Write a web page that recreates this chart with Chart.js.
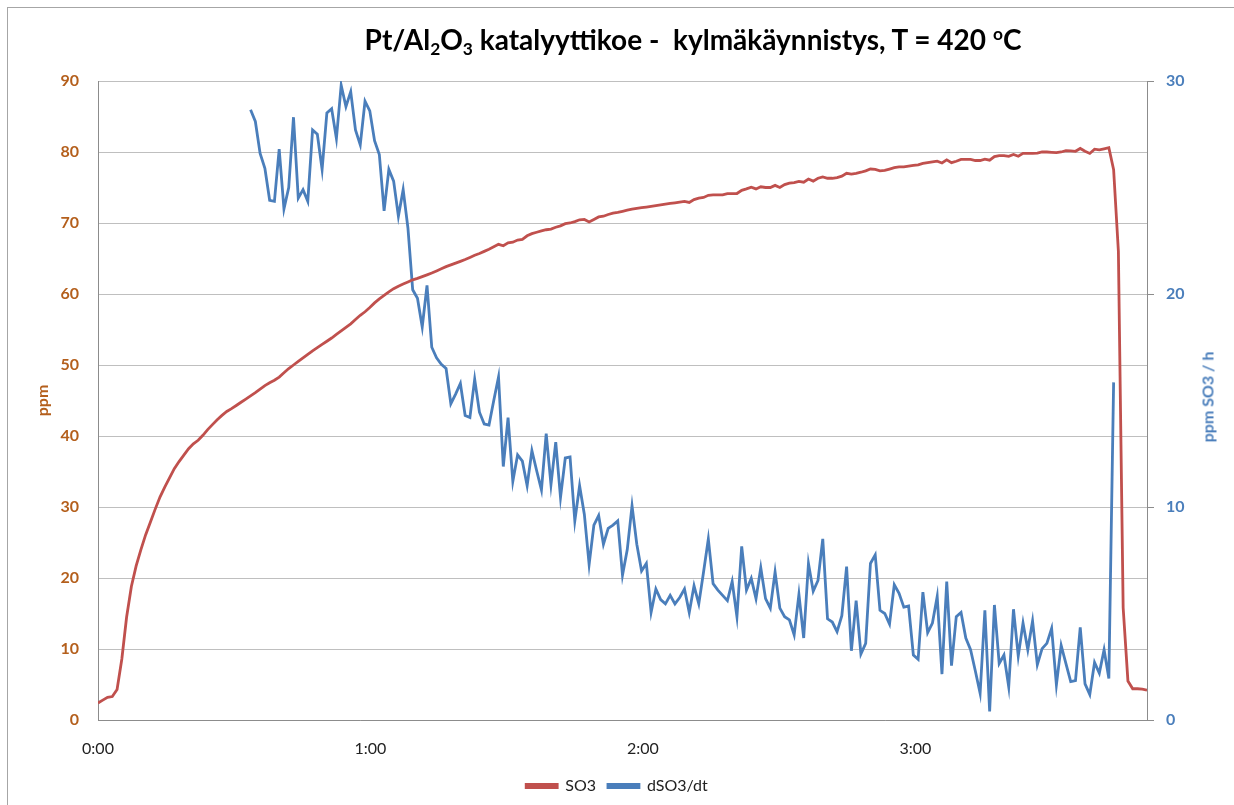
<!DOCTYPE html>
<html>
<head>
<meta charset="utf-8">
<script src="https://cdn.jsdelivr.net/npm/chart.js@4.4.1/dist/chart.umd.min.js"></script>
<style>
  html, body { margin: 0; padding: 0; background: #fff; }
  #wrap { position: relative; width: 1234px; height: 805px; overflow: hidden; font-family: Lato, 'Open Sans', sans-serif; }
  #frame { position: absolute; left: 7px; top: 7px; width: 1260px; height: 830px; border: 1px solid #a6a6a6; }
  #chart { position: absolute; left: 0; top: 0; }
  #title { position: absolute; left: 193px; width: 1000px; top: 22px; text-align: center; font-weight: bold; font-size: 28px; color: #000; white-space: pre; }
  #title sub, #title sup { font-size: 0.62em; line-height: 0; }
  #title sub { vertical-align: -0.3em; }
  #title sup { vertical-align: 0.55em; }
  #rightTitle { position: absolute; left: 1207px; top: 397px; transform: translate(-50%, -50%) rotate(-90deg); font-weight: bold; font-size: 16px; color: #4a7ebb; white-space: nowrap; }
</style>
</head>
<body>
<div id="wrap">
  <div id="frame"></div>
  <canvas id="chart" width="1234" height="805"></canvas>
  <div id="title">Pt/Al<sub>2</sub>O<sub>3</sub> katalyyttikoe -  kylmäkäynnistys, T = 420 <sup>o</sup>C</div>
  <div id="rightTitle">ppm SO3 / h</div>
</div>
<script>
// one sample roughly every 63 s
const SAMPLE_MIN = 1.05;
const DSO3_FIRST = 32; // sample index where the derivative starts
const TIME_LABELS = ['0:00', '1:00', '2:00', '3:00'];

const so3 = [
  2.4, 2.8, 3.2, 3.3, 4.3, 8.6, 14.5, 18.8, 21.7, 24.0,
  26.1, 27.9, 29.7, 31.4, 32.8, 34.1, 35.4, 36.4, 37.3, 38.2,
  38.9, 39.4, 40.1, 40.9, 41.6, 42.3, 42.9, 43.45, 43.85, 44.3,
  44.75, 45.2, 45.65, 46.1, 46.6, 47.1, 47.5, 47.85, 48.3, 48.9,
  49.5, 50.0, 50.5, 51.0, 51.5, 52.0, 52.45, 52.9, 53.35, 53.8,
  54.3, 54.8, 55.3, 55.8, 56.4, 57.0, 57.5, 58.1, 58.75, 59.3,
  59.8, 60.3, 60.75, 61.1, 61.4, 61.7, 62.0, 62.2, 62.45, 62.7,
  62.95, 63.25, 63.55, 63.85, 64.1, 64.35, 64.6, 64.85, 65.15, 65.45,
  65.7, 66.0, 66.3, 66.65, 67.0, 66.8, 67.2, 67.3, 67.6, 67.7,
  68.2, 68.5, 68.7, 68.9, 69.05, 69.15, 69.4, 69.6, 69.9, 70.0,
  70.2, 70.45, 70.5, 70.15, 70.5, 70.85, 70.95, 71.2, 71.4, 71.5,
  71.65, 71.8, 71.95, 72.05, 72.15, 72.25, 72.35, 72.45, 72.55, 72.65,
  72.75, 72.85, 72.95, 73.05, 72.9, 73.3, 73.5, 73.6, 73.9, 73.95,
  73.95, 73.95, 74.15, 74.15, 74.15, 74.6, 74.8, 75.05, 74.8, 75.1,
  75.0, 75.0, 75.3, 75.0, 75.4, 75.6, 75.7, 75.85, 75.75, 76.2,
  75.9, 76.3, 76.5, 76.3, 76.3, 76.4, 76.6, 77.0, 76.9, 77.0,
  77.15, 77.35, 77.6, 77.55, 77.35, 77.4, 77.6, 77.8, 77.9, 77.9,
  78.0, 78.1, 78.2, 78.4, 78.5, 78.6, 78.7, 78.45, 78.9, 78.5,
  78.7, 78.95, 78.95, 78.95, 78.8, 78.8, 79.0, 78.85, 79.35, 79.5,
  79.5, 79.4, 79.65, 79.4, 79.8, 79.8, 79.8, 79.85, 80.0, 80.0,
  79.95, 79.9, 80.0, 80.2, 80.15, 80.1, 80.5, 80.1, 79.8, 80.4,
  80.3, 80.45, 80.6, 77.5, 66.0, 15.8, 5.5, 4.4, 4.4, 4.35, 4.2
];

const dso3dt = [
  28.65, 28.1, 26.6, 25.9, 24.4, 24.35, 26.8, 24.0, 25.0, 28.3,
  24.5, 24.9, 24.35, 27.7, 27.5, 25.85, 28.5, 28.7, 27.3, 29.8,
  28.8, 29.5, 27.7, 27.0, 29.05, 28.6, 27.2, 26.55, 23.9, 25.85,
  25.3, 23.65, 24.9, 23.1, 20.2, 19.8, 18.45, 20.4, 17.5, 17.0,
  16.7, 16.5, 14.85, 15.3, 15.8, 14.3, 14.2, 16.0, 14.45, 13.9,
  13.85, 15.0, 16.1, 11.9, 14.2, 11.2, 12.45, 12.15, 11.0, 12.65,
  11.7, 10.8, 13.45, 11.05, 13.05, 10.45, 12.3, 12.35, 9.35, 11.0,
  9.65, 7.3, 9.15, 9.6, 8.25, 9.0, 9.15, 9.35, 6.8, 8.0,
  10.05, 8.25, 7.0, 7.35, 5.05, 6.15, 5.65, 5.45, 5.85, 5.45,
  5.75, 6.15, 5.05, 6.3, 5.45, 6.95, 8.5, 6.4, 6.1, 5.85,
  5.6, 6.5, 4.85, 8.15, 6.1, 6.65, 5.7, 7.15, 5.7, 5.25,
  6.95, 5.25, 4.85, 4.7, 4.0, 5.9, 3.85, 7.35, 6.05, 6.55,
  8.5, 4.75, 4.6, 4.15, 4.9, 7.2, 3.25, 5.6, 3.1, 3.6,
  7.35, 7.75, 5.15, 5.0, 4.5, 6.35, 5.95, 5.3, 5.35, 3.05,
  2.85, 6.0, 4.1, 4.55, 5.8, 2.15, 6.5, 2.55, 4.85, 5.05,
  3.85, 3.3, 2.3, 1.25, 5.15, 0.4, 5.4, 2.65, 3.05, 1.55,
  5.2, 3.0, 4.55, 3.3, 4.65, 2.6, 3.35, 3.6, 4.3, 1.65,
  3.5, 2.65, 1.8, 1.85, 4.35, 1.7, 1.2, 2.7, 2.2, 3.3,
  1.95, 15.85
];

const RED = '#c0504d';
const BLUE = '#4a7ebb';
const BROWN = '#b45f1c';
const GRID = '#bfbfbf';
const AXIS = '#8c8c8c';

const so3Points = so3.map((v, i) => ({ x: i * SAMPLE_MIN, y: v }));
const dso3Points = dso3dt.map((v, i) => ({ x: (DSO3_FIRST + i) * SAMPLE_MIN, y: v }));

const tickFont = { family: 'Lato, sans-serif', size: 16 };

new Chart(document.getElementById('chart'), {
  type: 'line',
  data: {
    datasets: [
      { label: 'SO3', data: so3Points, yAxisID: 'y', borderColor: RED, backgroundColor: RED, borderWidth: 2.8, pointRadius: 0, tension: 0 },
      { label: 'dSO3/dt', data: dso3Points, yAxisID: 'y2', borderColor: BLUE, backgroundColor: BLUE, borderWidth: 2.8, pointRadius: 0, tension: 0 },
    ],
  },
  options: {
    responsive: false,
    devicePixelRatio: 1,
    animation: false,
    layout: { padding: { top: 81, bottom: 1, left: 0, right: 0 } },
    plugins: {
      title: { display: false },
      tooltip: { enabled: false },
      legend: {
        position: 'bottom',
        labels: { boxWidth: 31, boxHeight: 3, padding: 12, color: '#222', font: { family: 'Lato, sans-serif', size: 16 } },
      },
    },
    scales: {
      x: {
        type: 'linear',
        min: 0,
        max: (so3.length - 1) * SAMPLE_MIN,
        afterFit: s => { s.height = 46; },
        afterBuildTicks: s => { s.ticks = TIME_LABELS.map((_, k) => ({ value: k * 60 })); },
        grid: { display: false, drawTicks: false },
        border: { display: true, color: AXIS, width: 1 },
        ticks: { padding: 19, color: '#222', font: tickFont, maxRotation: 0, callback: v => TIME_LABELS[v / 60] },
      },
      y: {
        position: 'left',
        min: 0,
        max: 90,
        afterFit: s => { s.width = 98; },
        grid: { color: GRID, lineWidth: 1, drawTicks: false },
        border: { display: true, color: AXIS, width: 1 },
        ticks: { stepSize: 10, padding: 19, color: BROWN, font: { ...tickFont, weight: 'bold' } },
        title: { display: true, text: 'ppm', color: BROWN, padding: { top: 33, bottom: 0 }, font: { family: 'Lato, sans-serif', size: 16, weight: 'bold' } },
      },
      y2: {
        position: 'right',
        min: 0,
        max: 30,
        afterFit: s => { s.width = 87; },
        grid: { drawOnChartArea: false, drawTicks: true, tickLength: 7, color: AXIS },
        border: { display: true, color: AXIS, width: 1 },
        ticks: { stepSize: 10, padding: 12, color: BLUE, font: { ...tickFont, weight: 'bold' } },
      },
    },
  },
});
</script>
</body>
</html>
